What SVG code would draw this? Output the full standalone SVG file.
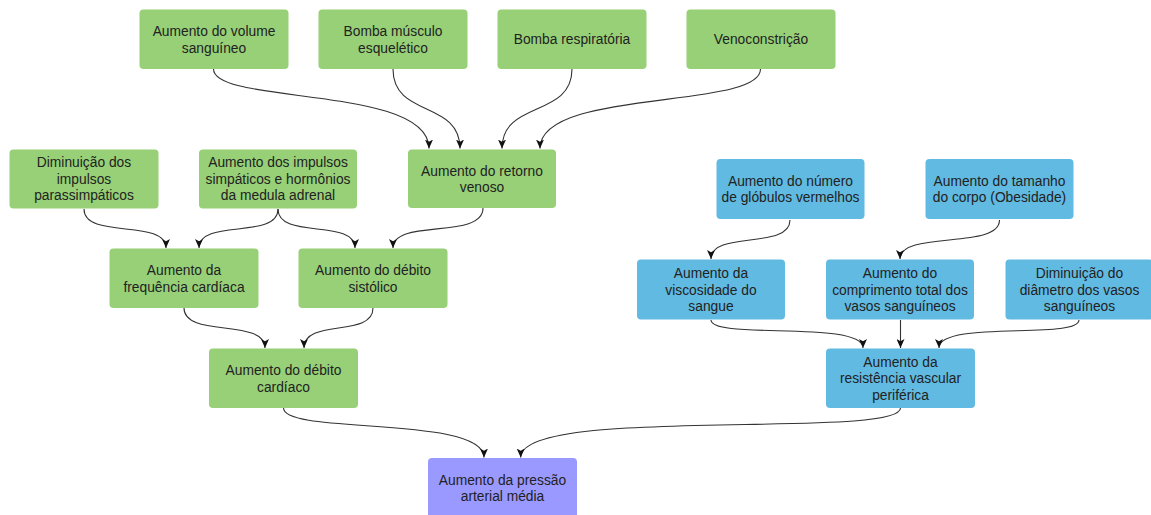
<svg xmlns="http://www.w3.org/2000/svg" width="1151" height="515" viewBox="0 0 1151 515">
  <style>
    .box { stroke: none; }
    .green { fill: #97D077; }
    .blue { fill: #61BAE1; }
    .purple { fill: #9999FF; }
    .lbl { font-family: "Liberation Sans", Arial, sans-serif; font-size: 13.8px; fill: #222; text-anchor: middle; }
    .edge { fill: none; stroke: #333; stroke-width: 1.1; marker-end: url(#arrow); }
  </style>
  <defs>
    <marker id="arrow" markerUnits="userSpaceOnUse" markerWidth="9" markerHeight="8" viewBox="0 0 9 8" refX="9" refY="4" orient="auto">
      <path d="M0,0 L9,4 L0,8 L2.3,4 Z" fill="#111"/>
    </marker>
  </defs>
  <rect width="1151" height="515" fill="#ffffff"/>

  <!-- connectors -->
  <g id="connectors">
    <path class="edge" d="M213.5,69 C213.5,105 429,85 429,148.5"/>
    <path class="edge" d="M393,69 C393,118 460,100 460,148.5"/>
    <path class="edge" d="M572,69 C572,118 502,100 502,148.5"/>
    <path class="edge" d="M760.5,69 C760.5,110 540,88 540,148.5"/>
    <path class="edge" d="M84,209 C84,240 166,218 166,248"/>
    <path class="edge" d="M278,209 C278,240 199,218 199,248"/>
    <path class="edge" d="M278,209 C278,240 355,218 355,248"/>
    <path class="edge" d="M483,208 C483,240 393,218 393,248"/>
    <path class="edge" d="M184,308 C184,338 265,318 265,348"/>
    <path class="edge" d="M373,308 C373,338 304,318 304,348"/>
    <path class="edge" d="M283.5,408 C283.5,435 484,415 484,457.5"/>
    <path class="edge" d="M900.5,408 C900.5,440 520.7,405 520.7,457.5"/>
    <path class="edge" d="M790,220 C790,250 711,230 711,259"/>
    <path class="edge" d="M999.5,220 C999.5,250 900,230 900,259"/>
    <path class="edge" d="M711,320 C711,340 863,320 863,348"/>
    <path class="edge" d="M900.5,320 L900.5,348"/>
    <path class="edge" d="M1079,320 C1079,340 939,320 939,348"/>
  </g>

  <!-- venous return factors -->
  <g id="volume">
    <rect class="box green" x="139.5" y="9.5" width="149" height="59.5" rx="4"/>
    <text class="lbl"><tspan x="214" y="36">Aumento do volume</tspan><tspan x="214" y="52.6">sanguíneo</tspan></text>
  </g>
  <g id="bomba-musculo">
    <rect class="box green" x="318.5" y="9.5" width="149" height="59.5" rx="4"/>
    <text class="lbl"><tspan x="393" y="36">Bomba músculo</tspan><tspan x="393" y="52.6">esquelético</tspan></text>
  </g>
  <g id="bomba-respiratoria">
    <rect class="box green" x="497.5" y="9.5" width="149" height="59.5" rx="4"/>
    <text class="lbl" x="572" y="44.3">Bomba respiratória</text>
  </g>
  <g id="venoconstricao">
    <rect class="box green" x="686.5" y="9.5" width="149" height="59.5" rx="4"/>
    <text class="lbl" x="761" y="44.3">Venoconstrição</text>
  </g>
  <g id="retorno-venoso">
    <rect class="box green" x="408" y="149.5" width="148" height="58.5" rx="4"/>
    <text class="lbl"><tspan x="482" y="175.5">Aumento do retorno</tspan><tspan x="482" y="192.1">venoso</tspan></text>
  </g>

  <!-- heart rate and stroke volume -->
  <g id="parassimpaticos">
    <rect class="box green" x="9.5" y="149.5" width="149" height="59" rx="4"/>
    <text class="lbl"><tspan x="84" y="166.9">Diminuição dos</tspan><tspan x="84" y="183.5">impulsos</tspan><tspan x="84" y="200.1">parassimpáticos</tspan></text>
  </g>
  <g id="simpaticos">
    <rect class="box green" x="199" y="149.5" width="158" height="59" rx="4"/>
    <text class="lbl"><tspan x="278" y="166.9">Aumento dos impulsos</tspan><tspan x="278" y="183.5">simpáticos e hormônios</tspan><tspan x="278" y="200.1">da medula adrenal</tspan></text>
  </g>
  <g id="frequencia">
    <rect class="box green" x="109.5" y="248.5" width="149" height="59.5" rx="4"/>
    <text class="lbl"><tspan x="184" y="275">Aumento da</tspan><tspan x="184" y="291.6">frequência cardíaca</tspan></text>
  </g>
  <g id="debito-sistolico">
    <rect class="box green" x="298.5" y="248.5" width="149" height="59.5" rx="4"/>
    <text class="lbl"><tspan x="373" y="275">Aumento do débito</tspan><tspan x="373" y="291.6">sistólico</tspan></text>
  </g>
  <g id="debito-cardiaco">
    <rect class="box green" x="209" y="348.5" width="149" height="59.5" rx="4"/>
    <text class="lbl"><tspan x="283.5" y="375">Aumento do débito</tspan><tspan x="283.5" y="391.6">cardíaco</tspan></text>
  </g>

  <!-- result -->
  <g id="pressao">
    <rect class="box purple" x="428" y="458" width="149" height="60" rx="4"/>
    <text class="lbl"><tspan x="502.5" y="484.7">Aumento da pressão</tspan><tspan x="502.5" y="501.3">arterial média</tspan></text>
  </g>

  <!-- vascular resistance factors -->
  <g id="globulos">
    <rect class="box blue" x="716.5" y="159" width="148" height="60" rx="4"/>
    <text class="lbl"><tspan x="790.5" y="185.7">Aumento do número</tspan><tspan x="790.5" y="202.3">de glóbulos vermelhos</tspan></text>
  </g>
  <g id="tamanho">
    <rect class="box blue" x="925.5" y="159" width="148" height="60" rx="4"/>
    <text class="lbl"><tspan x="999.5" y="185.7">Aumento do tamanho</tspan><tspan x="999.5" y="202.3">do corpo (Obesidade)</tspan></text>
  </g>
  <g id="viscosidade">
    <rect class="box blue" x="637" y="259.5" width="148" height="60" rx="4"/>
    <text class="lbl"><tspan x="711" y="277.9">Aumento da</tspan><tspan x="711" y="294.5">viscosidade do</tspan><tspan x="711" y="311.1">sangue</tspan></text>
  </g>
  <g id="comprimento">
    <rect class="box blue" x="826" y="259.5" width="148" height="60" rx="4"/>
    <text class="lbl"><tspan x="900" y="277.9">Aumento do</tspan><tspan x="900" y="294.5">comprimento total dos</tspan><tspan x="900" y="311.1">vasos sanguíneos</tspan></text>
  </g>
  <g id="diametro">
    <rect class="box blue" x="1005.5" y="259.5" width="148" height="60" rx="4"/>
    <text class="lbl"><tspan x="1079.5" y="277.9">Diminuição do</tspan><tspan x="1079.5" y="294.5">diâmetro dos vasos</tspan><tspan x="1079.5" y="311.1">sanguíneos</tspan></text>
  </g>
  <g id="resistencia">
    <rect class="box blue" x="826" y="348.5" width="149" height="59.5" rx="4"/>
    <text class="lbl"><tspan x="900.5" y="366.7">Aumento da</tspan><tspan x="900.5" y="383.3">resistência vascular</tspan><tspan x="900.5" y="399.9">periférica</tspan></text>
  </g>
</svg>
